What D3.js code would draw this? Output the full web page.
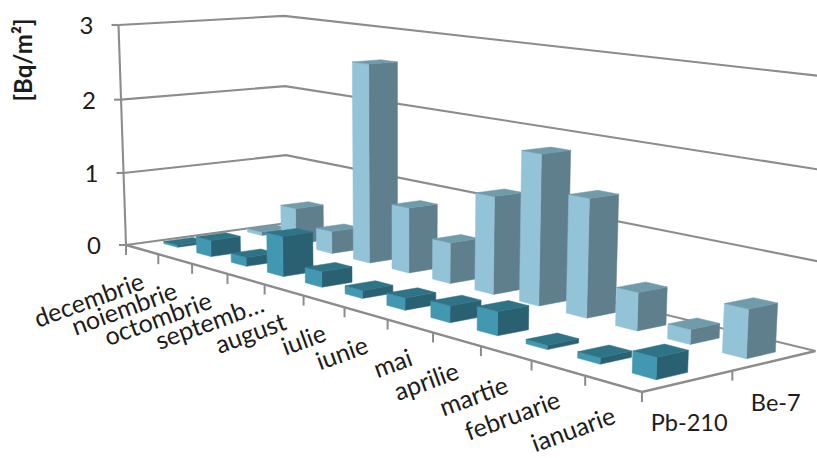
<!DOCTYPE html>
<html>
<head>
<meta charset="utf-8">
<script src="https://cdn.jsdelivr.net/npm/d3@7/dist/d3.min.js"></script>
<style>
html,body{margin:0;padding:0;background:#fff;overflow:hidden}
text{font-family:Lato,"Open Sans",sans-serif;fill:#1c1c1c}
</style>
</head>
<body>
<svg id="chart" width="817" height="458"></svg>
<script>
// Monthly deposition, ordered back to front along the depth of the floor
const months = ["decembrie","noiembrie","octombrie","septemb…","august","iulie","iunie","mai","aprilie","martie","februarie","ianuarie"];
const seriesNames = ["Pb-210","Be-7"];
const pb210 = [0.03,0.22,0.12,0.52,0.2,0.1,0.15,0.2,0.28,0.05,0.07,0.24];
const be7 = [0.05,0.5,0.3,2.62,0.85,0.52,1.22,1.84,1.42,0.45,0.17,0.55];
const valueTicks = [0,1,2,3];

// Screen corners of the floor and the top of the near axis
const floorA=[126,245], floorB=[642,392], floorC=[815.5,351], floorD=[287,223], topA=[118.5,25], topCy=77.1;

// Unit square to floor quad
function floorMatrix(){
  const [x0,y0]=floorA,[x1,y1]=floorB,[x2,y2]=floorC,[x3,y3]=floorD;
  const dx1=x1-x2,dx2=x3-x2,sx=x0-x1+x2-x3,dy1=y1-y2,dy2=y3-y2,sy=y0-y1+y2-y3;
  const den=dx1*dy2-dx2*dy1;
  const g=(sx*dy2-dx2*sy)/den,h=(dx1*sy-sx*dy1)/den;
  return {a:x1-x0+g*x1,b:x3-x0+h*x3,c:x0,d:y1-y0+g*y1,e:y3-y0+h*y3,f:y0,g,h};
}
const M=floorMatrix();
function homog(u,v){return [M.a*u+M.b*v+M.c,M.d*u+M.e*v+M.f,M.g*u+M.h*v+1];}

// Height column of the projection, fixed by the two wall-top points
const wA=homog(0,0), wC=homog(1,1);
const hc=((wA[1]-wC[1]) - (topA[1]*wA[2]-topCy*wC[2]))/(topA[1]-topCy);
const hb=topA[1]*(wA[2]+hc)-wA[1];
const ha=topA[0]*(wA[2]+hc)-wA[0];
function project(u,v,w){
  const p=homog(u,v),k=p[2]+hc*w;
  return [(p[0]+ha*w)/k,(p[1]+hb*w)/k];
}

// Scales: months along the floor, series across it, values up the walls
const uScale=d3.scaleBand().domain(months).range([0,1]).paddingInner(0.58).paddingOuter(0.29).align(0.48);
const uStep=d3.scaleBand().domain(months).range([0,1]);
const vScale=d3.scaleBand().domain(seriesNames).range([0.17,0.86]).paddingInner(0.66);
const vStep=d3.scaleBand().domain(seriesNames).range([0,1]);
const hScale=d3.scaleLinear().domain([0,3]).range([0,1]);

const svg=d3.select("#chart");
const line=d3.line();
const gridColor="#8c8c8c";

// Walls
const wallY=svg.append("g").attr("fill","none").attr("stroke",gridColor).attr("stroke-width",2.1);
wallY.selectAll("path.grid").data(valueTicks).join("path").attr("class","grid")
  .attr("d",t=>{const w=hScale(t);return line([project(0,0,w),project(0,1,w),project(1,1,w)]);});
wallY.append("path").attr("d",line([project(0,0,0),project(0,0,1)]));
wallY.selectAll("path.vtick").data(valueTicks).join("path").attr("class","vtick")
  .attr("d",t=>{const p=project(0,0,hScale(t));return line([[p[0]-7,p[1]],p]);});

// Floor edges and tick marks
const floorG=svg.append("g").attr("fill","none").attr("stroke",gridColor).attr("stroke-width",2.4);
floorG.append("path").attr("d",line([project(0,0,0),project(1,0,0),project(1,1,0)]));
const uTicks=d3.range(months.length+1).map(i=>i/months.length);
const vTicks=d3.range(seriesNames.length).map(i=>i/seriesNames.length);
floorG.selectAll("path.ut").data(uTicks).join("path").attr("class","ut").attr("stroke-width",2)
  .attr("d",u=>{const p=project(u,0,0);return line([p,[p[0],p[1]+10]]);});
floorG.selectAll("path.vt").data(vTicks.slice(1)).join("path").attr("class","vt").attr("stroke-width",2)
  .attr("d",v=>{const p=project(1,v,0);return line([p,[p[0],p[1]+10]]);});

// Bars: farther series first, and earlier rows first within a series
const palette={
  "Be-7":{front:"#92c3d7",side:"#5f7f8d",top:"#6f9bab"},
  "Pb-210":{front:"#4298b0",side:"#2a6172",top:"#2f7386"}
};
const barRows=[
  {name:"Be-7",values:be7},
  {name:"Pb-210",values:pb210}
];
barRows.forEach(row=>{
  const colors=palette[row.name];
  const v0=vScale(row.name), v1=v0+vScale.bandwidth();
  const g=svg.append("g").attr("class","series");
  const bar=g.selectAll("g").data(months.map((m,i)=>({m,value:row.values[i]}))).join("g");
  const faces=d=>{
    const u0=uScale(d.m),u1=u0+uScale.bandwidth(),w=hScale(d.value);
    return {
      front:[project(u0,v0,0),project(u1,v0,0),project(u1,v0,w),project(u0,v0,w)],
      side:[project(u1,v0,0),project(u1,v1,0),project(u1,v1,w),project(u1,v0,w)],
      top:[project(u0,v0,w),project(u1,v0,w),project(u1,v1,w),project(u0,v1,w)]
    };
  };
  ["side","front","top"].forEach(face=>{
    bar.append("path").attr("d",d=>line(faces(d)[face])+"Z")
      .attr("fill",colors[face]).attr("stroke",colors[face]).attr("stroke-width",0.5);
  });
});

// Value labels
svg.append("g").selectAll("text").data(valueTicks).join("text")
  .attr("x",t=>project(0,0,hScale(t))[0]-25)
  .attr("y",t=>project(0,0,hScale(t))[1]+9)
  .attr("text-anchor","end").attr("font-size",24).text(d=>d);

// Month labels, rotated along the near edge; the truncated label sits further along
svg.append("g").selectAll("text").data(months).join("text")
  .attr("text-anchor","end").attr("font-size",25)
  .attr("transform",m=>{
    const p=project(uStep(m)+uStep.bandwidth()/2,0,0);
    const nudge=m.endsWith("…")?[16,-7]:[0,0];
    return `translate(${p[0]+4+nudge[0]},${p[1]+39+nudge[1]}) rotate(-20)`;
  }).text(d=>d);

// Series labels
svg.append("g").selectAll("text").data(seriesNames).join("text")
  .attr("font-size",23.5).attr("text-anchor","middle")
  .attr("x",s=>project(1,vStep(s)+vStep.bandwidth()/2,0)[0]+1)
  .attr("y",s=>project(1,vStep(s)+vStep.bandwidth()/2,0)[1]+50)
  .text(d=>d);

// Value axis title
svg.append("text").attr("transform","translate(32,60) rotate(-90)")
  .attr("text-anchor","middle").attr("font-size",24).attr("font-weight","bold").text("[Bq/m²]");
</script>
</body>
</html>
